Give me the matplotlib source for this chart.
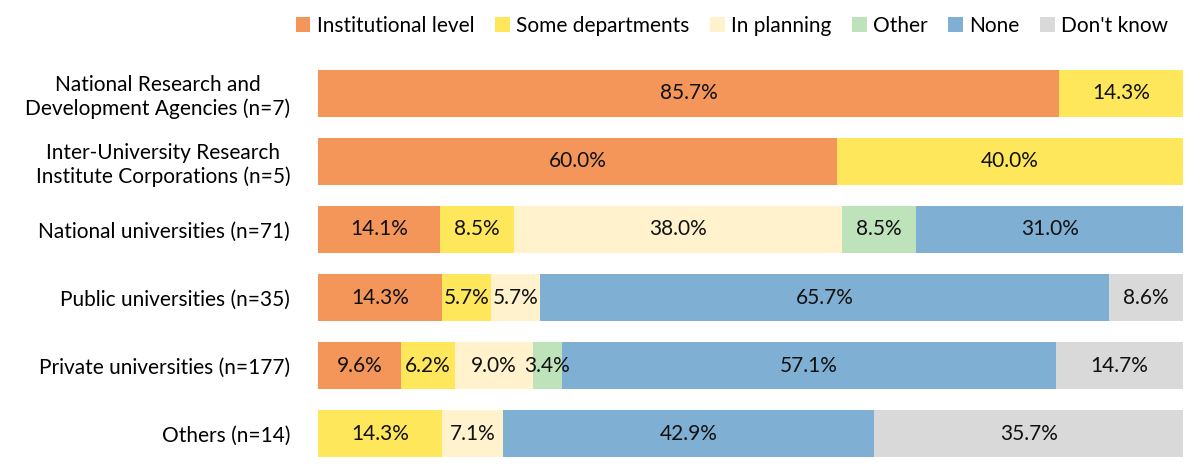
import numpy as np
import matplotlib.pyplot as plt

plt.rcParams['font.family'] = ['Lato', 'DejaVu Sans']

groups = ['National Research and\nDevelopment Agencies (n=7)',
          'Inter-University Research\nInstitute Corporations (n=5)',
          'National universities (n=71)',
          'Public universities (n=35)',
          'Private universities (n=177)',
          'Others (n=14)']
categories = ['Institutional level', 'Some departments', 'In planning',
              'Other', 'None', "Don't know"]

institutional = [85.7, 60.0, 14.1, 14.3, 9.6, 0.0]
some_depts = [14.3, 40.0, 8.5, 5.7, 6.2, 14.3]
in_planning = [0.0, 0.0, 38.0, 5.7, 9.0, 7.1]
other = [0.0, 0.0, 8.5, 0.0, 3.4, 0.0]
none = [0.0, 0.0, 31.0, 65.7, 57.1, 42.9]
dont_know = [0.0, 0.0, 0.0, 8.6, 14.7, 35.7]

series = [institutional, some_depts, in_planning, other, none, dont_know]
colors = ['#F4965A', '#FFE75C', '#FFF2CC', '#BEE3BA', '#7FB0D3', '#D9D9D9']

fig = plt.figure(figsize=(12, 4.74), dpi=100)
ax = fig.add_axes([0.265, 0.0127, 0.721, 0.8628])

y = np.arange(len(groups))
left = np.zeros(len(groups))
for name, vals, c in zip(categories, series, colors):
    vals = np.array(vals)
    ax.barh(y, vals, left=left, height=0.69, color=c, label=name)
    for yi, l, v in zip(y, left, vals):
        if v > 0:
            ax.text(l + v / 2, yi, f'{v:.1f}%', ha='center', va='center',
                    fontsize=15, color='#111111')
    left = left + vals

ax.set_xlim(0, 100)
ax.set_ylim(len(groups) - 0.5, -0.5)
ax.set_yticks(y)
ax.set_yticklabels(groups, fontsize=15, ha='right', multialignment='center')
ax.tick_params(axis='y', length=0, pad=20)
ax.set_xticks([])
for s in ax.spines.values():
    s.set_visible(False)

fig.legend(loc='center', bbox_to_anchor=(0.61, 0.945), ncol=6, frameon=False,
           fontsize=15, handlelength=0.7, handleheight=0.7, handletextpad=0.3,
           columnspacing=1.0)

fig.savefig('out.png', dpi=100)
